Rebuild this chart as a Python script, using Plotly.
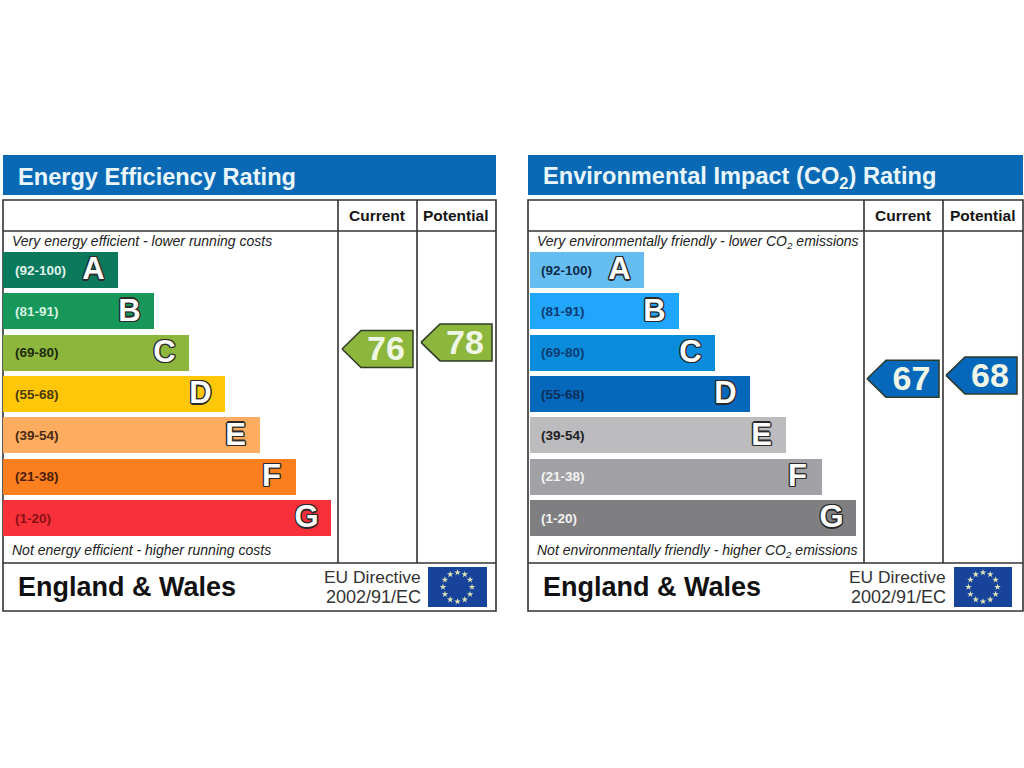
import math
import plotly.graph_objects as go

W = 1024
H = 768

letters = ["A", "B", "C", "D", "E", "F", "G"]
ranges = ["(92-100)", "(81-91)", "(69-80)", "(55-68)", "(39-54)", "(21-38)", "(1-20)"]

energy_lengths = [115, 151, 186, 222, 257, 293, 328]
energy_colors = ["#0b7a5c", "#17985a", "#8cb63c", "#ffc708", "#fdac60", "#fb7f1e", "#f8303a"]
energy_range_colors = ["#dff2ea", "#d6f0e0", "#1c2a10", "#4a3a05", "#4a2a10", "#4a2005", "#8a1216"]

impact_lengths = [114, 149, 185, 220, 256, 292, 326]
impact_colors = ["#66bdf2", "#20a6fb", "#0a8cdc", "#0568ba", "#bcbbbe", "#a2a1a5", "#7f7f82"]
impact_range_colors = ["#0f2c4a", "#0c3c72", "#0c3c72", "#0a2f5c", "#222222", "#f2f2f2", "#f2f2f2"]

energy_current = 76
energy_potential = 78
impact_current = 67
impact_potential = 68


def px(x):
    return x / W


def py(y):
    return 1 - y / H


fig = go.Figure()

# the bands are spaced evenly, index 0 at y=270 and index 6 at y=518
band_step = (518 - 270) / 6
band_range = [(H - 270) / band_step, -270 / band_step]

# rating scale: 76 sits at y=349 and each point is 3.3 pixels
rating_range = [76 - (H - 349) / 3.3, 76 + 349 / 3.3]

outline = ",".join(f"{dx}px {dy}px 0 #2a2a2a" for dx, dy in
                   [(1.3, 0), (-1.3, 0), (0, 1.3), (0, -1.3), (1, 1), (-1, 1), (1, -1), (-1, -1)])


def add_bars(lengths, colors, base):
    fig.add_trace(go.Bar(
        x=lengths, y=list(range(7)), base=base, orientation="h", width=0.87,
        marker=dict(color=colors, line=dict(width=0)), showlegend=False, hoverinfo="skip",
    ))
    fig.add_trace(go.Scatter(
        x=[base + v - 24.5 for v in lengths], y=[i + 0.04 for i in range(7)], mode="text", text=letters,
        textfont=dict(family="Liberation Sans", size=31, color="white", weight="bold", shadow=outline),
        showlegend=False, hoverinfo="skip",
    ))


def add_arrow(rating, x_tip, x_right, color):
    half = 18.5 / 3.3
    xs = [x_tip, x_tip + 19, x_right, x_right, x_tip + 19, x_tip]
    ys = [rating, rating + half, rating + half, rating - half, rating - half, rating]
    fig.add_trace(go.Scatter(
        x=xs, y=ys, yaxis="y2", mode="lines", fill="toself", fillcolor=color,
        line=dict(color="#2f3a2a", width=1.5), showlegend=False, hoverinfo="skip",
    ))
    fig.add_trace(go.Scatter(
        x=[(x_tip + 19 + x_right) / 2 - 1], y=[rating - 0.9], yaxis="y2", mode="text", text=[str(rating)],
        textfont=dict(family="Liberation Sans", size=34, color="#f0f6e6", weight="bold"),
        showlegend=False, hoverinfo="skip",
    ))


def add_flag(left, top, right, bottom):
    cx = (left + right) / 2
    cy = (top + bottom) / 2
    xs = [cx + 14.5 * math.sin(i * math.pi / 6) for i in range(12)]
    ys = [cy - 14.5 * math.cos(i * math.pi / 6) for i in range(12)]
    fig.add_trace(go.Scatter(
        x=xs, y=ys, yaxis="y3", mode="markers", showlegend=False, hoverinfo="skip",
        marker=dict(symbol="star", size=5, color="#dfe3b8", line=dict(width=0)),
    ))
    fig.add_shape(type="rect", xref="x", yref="y3", x0=left, x1=right, y0=top, y1=bottom,
                  fillcolor="#17439b", line=dict(width=0), layer="below")


def text(x, y, s, size, anchor="left", bold=False, italic=False, color="#222222"):
    fig.add_annotation(
        x=px(x), y=py(y), xref="paper", yref="paper", text=s, showarrow=False, xanchor=anchor, yanchor="middle",
        font=dict(family="Liberation Sans", size=size, color=color,
                  weight="bold" if bold else "normal", style="italic" if italic else "normal"),
    )


def panel(x0, x1, col1, col2, title, title_y, title_size, top_note, bottom_note, note_y, ranges_x, range_colors, dir_x):
    line = dict(color="#333333", width=1.6)
    fig.add_shape(type="rect", xref="paper", yref="paper", x0=px(x0), x1=px(x1), y0=py(155), y1=py(195),
                  fillcolor="#0a69b4", line=dict(width=0), layer="below")
    fig.add_shape(type="rect", xref="paper", yref="paper", x0=px(x0), x1=px(x1), y0=py(200), y1=py(611),
                  fillcolor="white", line=line, layer="below")
    for c in [col1, col2]:
        fig.add_shape(type="line", xref="paper", yref="paper", x0=px(c), x1=px(c), y0=py(200), y1=py(563),
                      line=line, layer="below")
    for r in [231, 563]:
        fig.add_shape(type="line", xref="paper", yref="paper", x0=px(x0), x1=px(x1), y0=py(r), y1=py(r),
                      line=line, layer="below")
    text(x0 + 13, title_y, title, title_size, bold=True, color="#e9f6fb")
    text((col1 + col2) / 2 - 1, 215, "Current", 15.5, anchor="center", bold=True, color="#151515")
    text((col2 + x1) / 2 - 1, 215, "Potential", 15.5, anchor="center", bold=True, color="#151515")
    text(x0 + 7, note_y, top_note, 14, italic=True)
    text(x0 + 7, note_y + 309, bottom_note, 14, italic=True)
    for i, r in enumerate(ranges):
        text(ranges_x, 270 + i * band_step, r, 13.5, bold=True, color=range_colors[i])
    text(x0 + 13, 587, "England & Wales", 27, bold=True, color="#111111")
    text(dir_x, 577, "EU Directive", 17.4, anchor="right", color="#333333")
    text(dir_x, 597, "2002/91/EC", 18, anchor="right", color="#333333")


panel(3, 496, 338, 417, "Energy Efficiency Rating", 176.5, 23.6,
      "Very energy efficient - lower running costs", "Not energy efficient - higher running costs", 241,
      13, energy_range_colors, 423)
panel(528, 1023, 864, 943, "Environmental Impact (CO<sub>2</sub>) Rating", 178, 23.6,
      "Very environmentally friendly - lower CO<sub>2</sub> emissions",
      "Not environmentally friendly - higher CO<sub>2</sub> emissions", 241.5,
      539, impact_range_colors, 948)

add_bars(energy_lengths, energy_colors, 3)
add_bars(impact_lengths, impact_colors, 530)
add_arrow(energy_current, 342, 413, "#8cb63c")
add_arrow(energy_potential, 421, 492, "#8cb63c")
add_arrow(impact_current, 867, 939, "#0568ba")
add_arrow(impact_potential, 946, 1017, "#0568ba")
add_flag(428, 567, 487, 607)
add_flag(954, 567, 1012, 607)

fig.update_layout(
    width=W, height=H, margin=dict(l=0, r=0, t=0, b=0), paper_bgcolor="white", plot_bgcolor="rgba(0,0,0,0)",
    barmode="overlay", bargap=0,
    xaxis=dict(range=[0, W], visible=False, fixedrange=True),
    yaxis=dict(range=band_range, visible=False, fixedrange=True),
    yaxis2=dict(range=rating_range, overlaying="y", visible=False, fixedrange=True),
    yaxis3=dict(range=[H, 0], overlaying="y", visible=False, fixedrange=True),
)

fig.write_html("out.html", config=dict(displayModeBar=False), post_script="document.body.style.margin='0';")
